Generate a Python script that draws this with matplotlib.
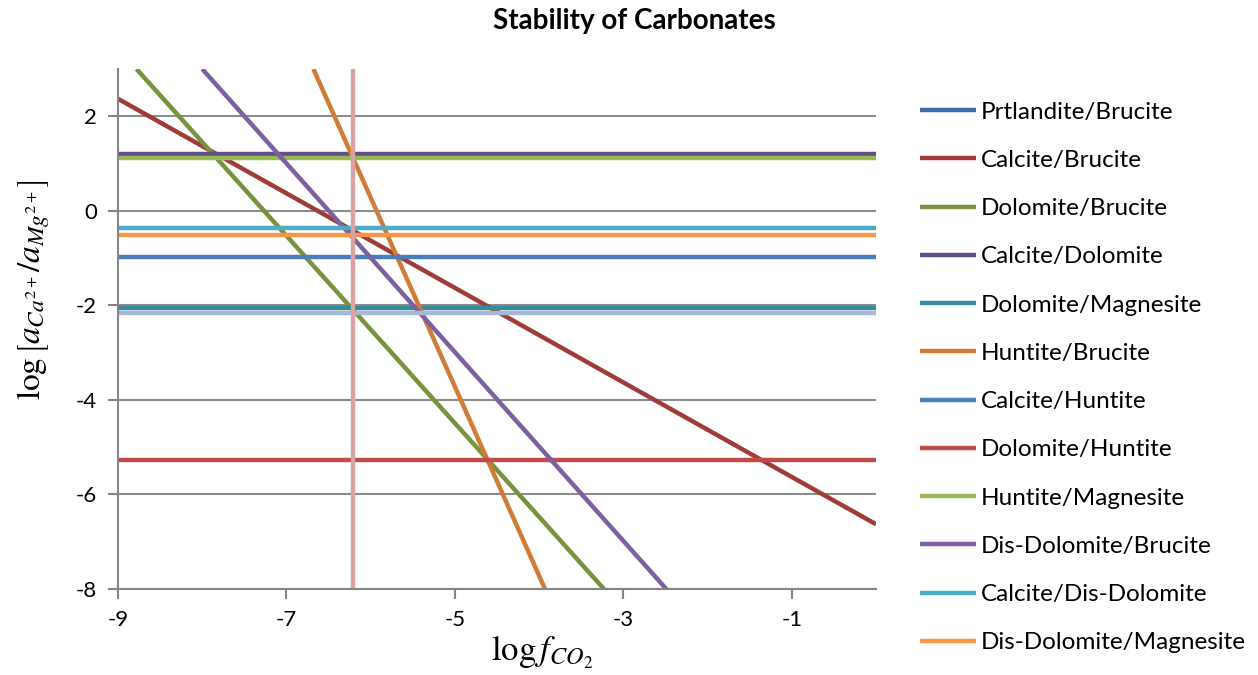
import matplotlib
matplotlib.use("Agg")
import matplotlib.pyplot as plt

plt.rcParams['font.family'] = ['Lato', 'DejaVu Sans']
plt.rcParams['mathtext.fontset'] = 'stix'

# --- series (x = log fCO2, y = log[aCa/aMg]) ---
names = ["Prtlandite/Brucite", "Calcite/Brucite", "Dolomite/Brucite",
         "Calcite/Dolomite", "Dolomite/Magnesite", "Huntite/Brucite",
         "Calcite/Huntite", "Dolomite/Huntite", "Huntite/Magnesite",
         "Dis-Dolomite/Brucite", "Calcite/Dis-Dolomite", "Dis-Dolomite/Magnesite",
         None, None]

xs = [[-9, 0], [-9, 0], [-8.78, -3.23],
      [-9, 0], [-9, 0], [-6.68, -3.93],
      [-9, 0], [-9, 0], [-9, 0],
      [-8.0, -2.49], [-9, 0], [-9, 0],
      [-9, 0], [-6.21, -6.21]]

ys = [[5.96, 5.96], [2.37, -6.63], [3.0, -8.0],
      [1.2, 1.2], [-2.06, -2.06], [3.0, -8.0],
      [-0.97, -0.97], [-5.27, -5.27], [1.12, 1.12],
      [3.0, -8.0], [-0.37, -0.37], [-0.52, -0.52],
      [-2.17, -2.17], [-8.0, 3.0]]

colors = ["#3D6CA8", "#A03C38", "#77933C", "#634F85", "#358C9F", "#D07B36",
          "#4A7EBB", "#BE4B48", "#98B954", "#7D60A0", "#4BACC6", "#F79646",
          "#A5B8D8", "#D8A3A2"]

xticks = [-9, -7, -5, -3, -1]
yticks = [-8, -6, -4, -2, 0, 2]

fig = plt.figure(figsize=(12.58, 6.75), dpi=100)
ax = fig.add_axes([118 / 1258, 1 - 589 / 675, (876 - 118) / 1258, (589 - 69) / 675])

handles = []
for name, x, y, c in zip(names, xs, ys, colors):
    ln, = ax.plot(x, y, color=c, lw=3.2, solid_capstyle='butt')
    if name:
        ln.set_label(name)
        handles.append(ln)

ax.set_xlim(-9, 0)
ax.set_ylim(-8, 3)
ax.set_xticks(xticks)
ax.set_yticks(yticks)
ax.set_xticklabels([str(t) for t in xticks])
ax.set_yticklabels([str(t) for t in yticks])
ax.tick_params(axis='both', labelsize=16, color="#868686", length=7, width=1.5, pad=8)
ax.grid(axis='y', color="#8c8c8c", lw=1.5)
ax.set_axisbelow(True)
for s in ['top', 'right']:
    ax.spines[s].set_visible(False)
for s in ['left', 'bottom']:
    ax.spines[s].set_color("#868686")
    ax.spines[s].set_linewidth(1.5)

fig.text(634 / 1258, 1 - 21 / 675, "Stability of Carbonates", ha='center', va='center',
         fontsize=20, fontweight='bold')
fig.text(542 / 1258, 1 - 652 / 675, r"$\log f_{CO_2}$", ha='center', va='center', fontsize=25)
fig.text(34 / 1258, 1 - 290 / 675, r"$\log\left[a_{Ca^{2+}}/a_{Mg^{2+}}\right]$",
         ha='center', va='center', rotation=90, fontsize=24)

fig.legend(handles=handles, loc='upper left', bbox_to_anchor=(910 / 1258, 1 - 92 / 675),
           frameon=False, fontsize=17.5, handlelength=2.3, handletextpad=0.2,
           labelspacing=1.12, borderaxespad=0)

fig.savefig("out.png", dpi=100)
